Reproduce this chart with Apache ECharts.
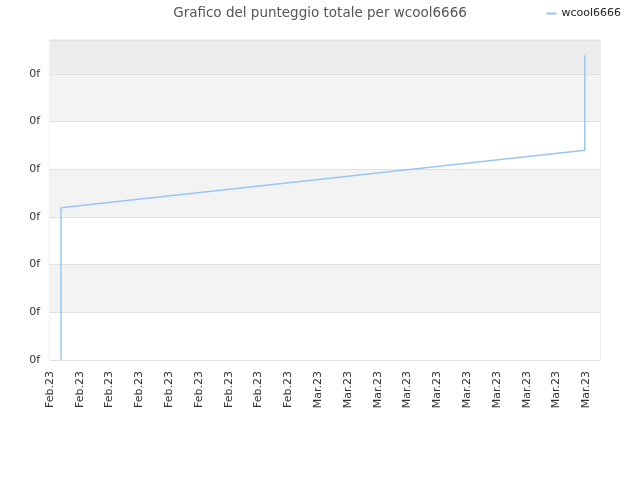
<!DOCTYPE html>
<html><head><meta charset="utf-8">
<script src="https://cdn.jsdelivr.net/npm/echarts@6/dist/echarts.min.js"></script>
<style>html,body{margin:0;padding:0;background:#fff}#c{width:640px;height:480px}</style>
</head><body><div id="c"></div>
<script>
var xLabels = ['Feb.23','Feb.23','Feb.23','Feb.23','Feb.23','Feb.23','Feb.23','Feb.23','Feb.23','Mar.23','Mar.23','Mar.23','Mar.23','Mar.23','Mar.23','Mar.23','Mar.23','Mar.23','Mar.23'];
var seriesX = [0.37, 0.37, 17.95, 17.95];
var seriesY = [0, 3.19, 4.40, 6.39];
var yTickLabel = '0f';
var seriesName = 'wcool6666';

var chart = echarts.init(document.getElementById('c'), null, {renderer:'canvas'});
chart.setOption({
  animation:false,
  title:{text:'Grafico del punteggio totale per wcool6666', left:'center', top:1,
    textStyle:{fontSize:13.5, fontWeight:'normal', color:'#555', fontFamily:'DejaVu Sans'}},
  legend:{right:14, top:3, itemWidth:10, itemHeight:2, itemGap:5,
    data:[{name:seriesName, icon:'rect'}],
    textStyle:{fontSize:11, color:'#222', fontFamily:'DejaVu Sans'}},
  grid:{left:50, right:40, top:40, bottom:120, show:true, borderColor:'#dcdcdc', borderWidth:1, backgroundColor:'transparent'},
  xAxis:{type:'value', min:0, max:18.46, interval:1,
    axisLine:{show:false}, axisTick:{show:false}, splitLine:{show:false},
    axisLabel:{rotate:90, fontSize:11, color:'#333', fontFamily:'DejaVu Sans', margin:11, showMaxLabel:false,
      formatter:function(v){var i=Math.round(v); return (Math.abs(v-i)<1e-6 && xLabels[i])?xLabels[i]:'';}}},
  yAxis:{type:'value', min:0, max:6.71, interval:1,
    axisLine:{show:false}, axisTick:{show:false},
    splitLine:{show:true, lineStyle:{color:'#e0e0e0', width:1}},
    splitArea:{show:true, areaStyle:{color:['#ffffff','#f3f3f3','#ffffff','#f3f3f3','#ffffff','#f3f3f3','#ececec']}},
    axisLabel:{fontSize:11, color:'#333', fontFamily:'DejaVu Sans', margin:10, showMaxLabel:false, verticalAlign:'middle', padding:[3,0,0,0],
      formatter:function(v){return Math.abs(v-Math.round(v))<1e-6 ? yTickLabel : '';}}},
  series:[{name:seriesName, type:'line', showSymbol:false, symbol:'none',
    data: seriesX.map(function(x,i){return [x, seriesY[i]];}),
    lineStyle:{color:'#99c6f2', width:1.5}, itemStyle:{color:'#99c6f2'}}]
});
</script></body></html>
